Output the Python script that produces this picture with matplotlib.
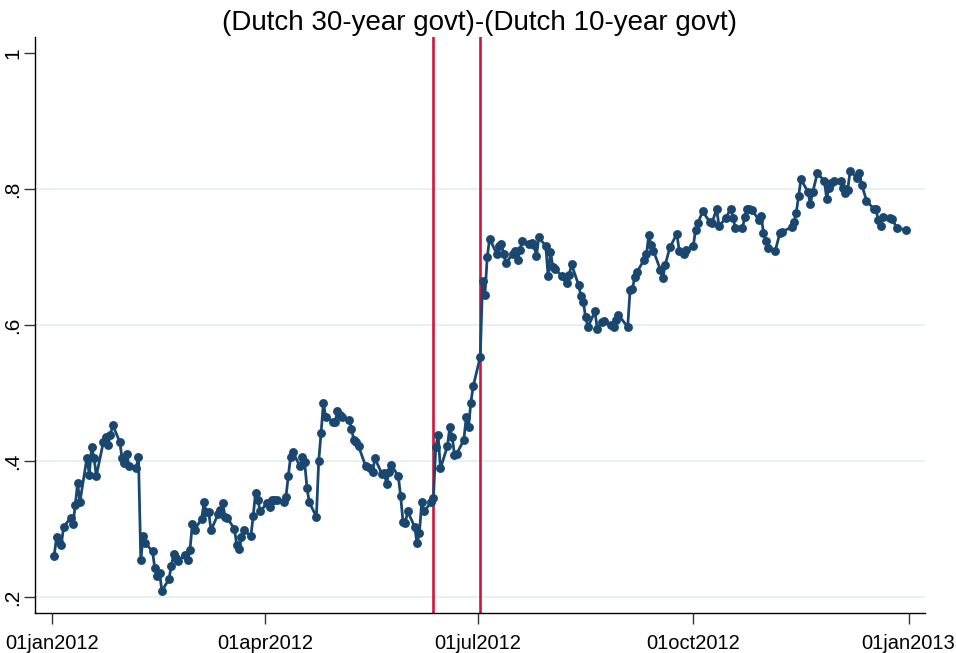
import matplotlib
matplotlib.use("Agg")
import matplotlib.pyplot as plt
import pandas as pd

plt.rcParams['font.family'] = ['Liberation Sans', 'DejaVu Sans']

title = "(Dutch 30-year govt)-(Dutch 10-year govt)"
start = "2012-01-01"

# days since 01jan2012 of each observation
day_offsets = [
    1, 2, 3, 4, 5, 8, 9, 10, 11, 12, 15, 16, 17, 18, 19, 22, 23, 24, 25, 26,
    29, 30, 31, 32, 33, 36, 37, 38, 39, 40, 43, 44, 45, 46, 47, 50, 51, 52, 53, 54,
    57, 58, 59, 60, 61, 64, 65, 66, 67, 68, 71, 72, 73, 74, 75, 78, 79, 80, 81, 82,
    85, 86, 87, 88, 89, 92, 93, 94, 95, 96, 99, 100, 101, 102, 103, 106, 107, 108, 109, 110,
    113, 114, 115, 116, 117, 120, 121, 122, 123, 124, 127, 128, 129, 130, 131, 134, 136, 137, 138,
    141, 142, 143, 144, 145, 148, 149, 150, 151, 152, 155, 156, 157, 158, 159,
    162, 163, 164, 165, 166, 169, 170, 171, 172, 173, 176, 177, 178, 179, 180,
    183, 184, 185, 186, 187, 190, 191, 192, 193, 194, 197, 198, 199, 200, 201,
    204, 205, 206, 207, 208, 211, 212, 213, 214, 215, 218, 219, 220, 221, 222,
    225, 226, 227, 228, 229, 232, 233, 235, 236, 239, 240, 241, 242, 246, 247, 248, 249, 250,
    253, 254, 255, 256, 257, 260, 261, 262, 264, 267, 268, 270, 271,
    274, 275, 276, 278, 281, 282, 284, 285, 288, 290, 291, 292,
    295, 296, 297, 298, 299, 302, 303, 304, 305, 306, 309, 311, 312,
    316, 317, 318, 319, 320, 323, 324, 325, 327, 330, 331, 332, 333, 334,
    337, 338, 339, 340, 341, 344, 345, 346, 348, 351, 352, 353, 354, 355,
    358, 359, 361, 365,
]

spread = [
    .261, .288, .281, .276, .303, .316, .307, .335, .367, .340, .405, .380, .421, .405, .378, .428, .436, .424, .438, .453,
    .428, .404, .397, .410, .392, .389, .406, .254, .290, .279, .267, .242, .231, .236, .209, .226, .245, .263, .257, .253,
    .262, .254, .269, .307, .299, .315, .339, .325, .325, .298, .322, .328, .338, .318, .316, .300, .276, .270, .288, .299,
    .289, .319, .353, .343, .326, .338, .333, .343, .343, .343, .340, .347, .378, .406, .413, .392, .406, .398, .360, .339,
    .318, .400, .441, .485, .465, .458, .458, .473, .468, .465, .461, .447, .431, .428, .422, .393, .389, .384, .404,
    .381, .383, .366, .384, .394, .378, .348, .311, .309, .326, .303, .279, .294, .339, .326,
    .339, .345, .421, .438, .389, .422, .450, .436, .409, .411, .431, .464, .450, .486, .510,
    .553, .664, .644, .700, .727, .705, .716, .719, .705, .691, .705, .709, .695, .711, .724,
    .719, .720, .718, .701, .729, .716, .672, .708, .686, .682, .672, .670, .662, .674, .689,
    .659, .643, .634, .612, .597, .620, .594, .605, .606, .600, .597, .608, .615, .597, .651, .653, .670, .678,
    .696, .704, .732, .718, .709, .681, .669, .688, .714, .734, .709, .705, .711,
    .716, .740, .750, .767, .752, .750, .771, .745, .758, .771, .758, .742,
    .742, .759, .771, .771, .769, .755, .760, .736, .723, .713, .709, .735, .737,
    .744, .751, .765, .790, .814, .796, .778, .795, .823, .812, .786, .802, .809, .812,
    .812, .802, .794, .799, .827, .816, .823, .806, .783, .771, .770, .755, .746, .759,
    .758, .756, .742, .740,
]

event_dates = ["2012-06-12", "2012-07-02"]
tick_dates = ["2012-01-01", "2012-04-01", "2012-07-01", "2012-10-01", "2013-01-01"]
tick_labels = ["01jan2012", "01apr2012", "01jul2012", "01oct2012", "01jan2013"]
y_ticks = [0.2, 0.4, 0.6, 0.8, 1.0]
y_labels = [".2", ".4", ".6", ".8", "1"]
grid_levels = [0.2, 0.4, 0.6, 0.8]

dates = pd.Timestamp(start) + pd.to_timedelta(day_offsets, unit="D")

W, H = 956, 653
fig = plt.figure(figsize=(W / 100, H / 100), dpi=100)
ax = fig.add_axes([35 / W, 1 - 613 / H, (925 - 35) / W, (613 - 37) / H])

for g in grid_levels:
    ax.axhline(g, color="#e8f0f2", lw=1.5, zorder=0)

for ev in event_dates:
    ax.axvline(pd.Timestamp(ev), color="#d1143c", lw=1.9, zorder=1)

ax.plot(dates, spread, color="#1a476f", lw=2.0, marker="o", ms=6.4,
        markeredgewidth=0, zorder=3)

x0 = pd.Timestamp(start)
ax.set_xlim(x0 - pd.Timedelta(days=7.2), x0 + pd.Timedelta(days=373))
ax.set_ylim(0.2 - 16 / 680, 1 + 16 / 680)

ax.set_xticks(pd.to_datetime(tick_dates))
ax.set_xticklabels(tick_labels, fontsize=14.5)
ax.set_yticks(y_ticks)
ax.set_yticklabels(y_labels, fontsize=15, rotation=90, va="center")

for s in ["top", "right"]:
    ax.spines[s].set_visible(False)
for s in ["left", "bottom"]:
    ax.spines[s].set_linewidth(1.0)
    ax.spines[s].set_color("black")
ax.tick_params(axis="both", direction="out", length=8, width=1.0, color="#333333")
ax.tick_params(axis="x", pad=7)
ax.tick_params(axis="y", pad=1)

ax.set_title(title, fontsize=20, pad=5)

fig.savefig("out.png", dpi=100)
